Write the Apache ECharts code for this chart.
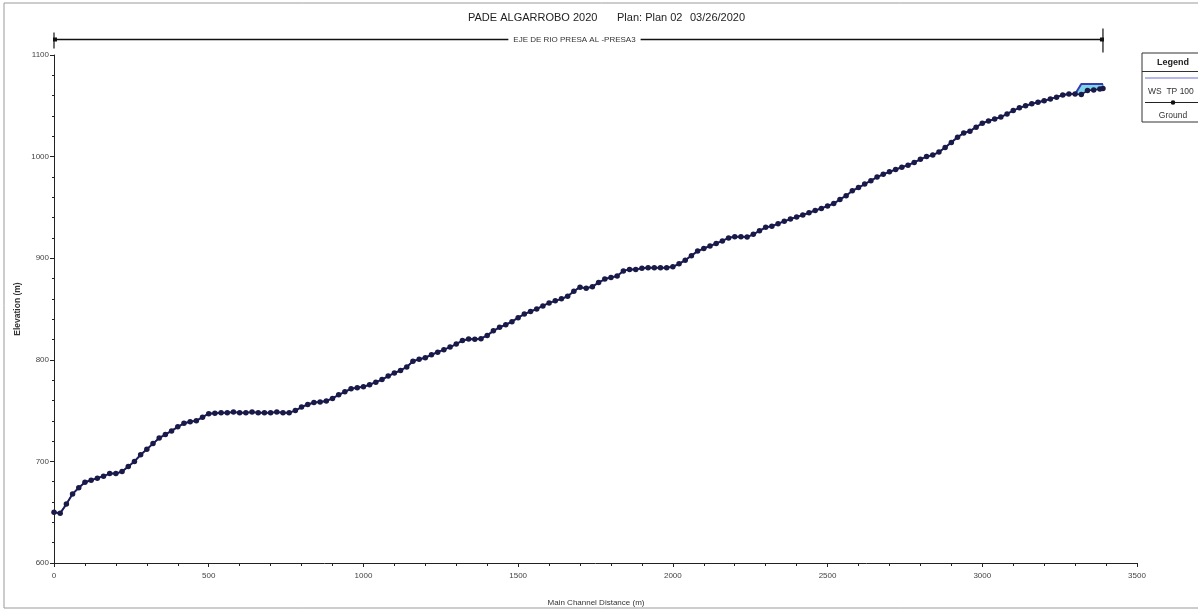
<!DOCTYPE html>
<html>
<head>
<meta charset="utf-8">
<script src="https://cdn.jsdelivr.net/npm/echarts@6/dist/echarts.min.js"></script>
<style>
html,body{margin:0;padding:0;background:#fff;}
#chart{width:1198px;height:611px;}
</style>
</head>
<body>
<div id="chart"></div>
<script>
// ---- Data ----
const titleParts = ['PADE ALGARROBO 2020', 'Plan: Plan 02', '03/26/2020'];
const reachName = 'EJE DE RIO PRESA AL -PRESA3';
const reachStart = 0;
const reachEnd = 3390;
const xTicks = [0, 500, 1000, 1500, 2000, 2500, 3000, 3500];
const yTicks = [600, 700, 800, 900, 1000, 1100];

// Main channel distance (m) of each cross section
const distances = [
  0, 20, 40, 60, 80, 100, 120, 140, 160, 180,
  200, 220, 240, 260, 280, 300, 320, 340, 360, 380,
  400, 420, 440, 460, 480, 500, 520, 540, 560, 580,
  600, 620, 640, 660, 680, 700, 720, 740, 760, 780,
  800, 820, 840, 860, 880, 900, 920, 940, 960, 980,
  1000, 1020, 1040, 1060, 1080, 1100, 1120, 1140, 1160, 1180,
  1200, 1220, 1240, 1260, 1280, 1300, 1320, 1340, 1360, 1380,
  1400, 1420, 1440, 1460, 1480, 1500, 1520, 1540, 1560, 1580,
  1600, 1620, 1640, 1660, 1680, 1700, 1720, 1740, 1760, 1780,
  1800, 1820, 1840, 1860, 1880, 1900, 1920, 1940, 1960, 1980,
  2000, 2020, 2040, 2060, 2080, 2100, 2120, 2140, 2160, 2180,
  2200, 2220, 2240, 2260, 2280, 2300, 2320, 2340, 2360, 2380,
  2400, 2420, 2440, 2460, 2480, 2500, 2520, 2540, 2560, 2580,
  2600, 2620, 2640, 2660, 2680, 2700, 2720, 2740, 2760, 2780,
  2800, 2820, 2840, 2860, 2880, 2900, 2920, 2940, 2960, 2980,
  3000, 3020, 3040, 3060, 3080, 3100, 3120, 3140, 3160, 3180,
  3200, 3220, 3240, 3260, 3280, 3300, 3320, 3340, 3360, 3380,
  3390
];

// Ground (channel invert) elevation (m)
const groundElev = [
  650, 649, 658, 668, 674, 679.5, 681.5, 683.5, 685.5, 688,
  688, 690, 695, 700, 706.5, 712, 717.5, 723, 726.5, 730,
  734, 737.5, 739, 740, 743.5, 747, 747.5, 748, 748, 748.5,
  748, 748, 748.5, 748, 748, 748, 748.5, 748, 748, 750,
  753.5, 756, 758, 758.5, 759.5, 762, 765.5, 768.5, 771.5, 772.5,
  773.5, 775.5, 778, 780.5, 784, 787, 789.5, 793, 798.5, 800.5,
  802, 805, 807.5, 810, 812.5, 815.5, 819, 820.5, 820.2, 820.8,
  824, 828.5, 832, 834.5, 837.5, 841.5, 845, 847.5, 850, 853,
  856, 858, 860, 862.5, 867.5, 871.5, 870.5, 872, 876, 879.5,
  881, 882.5, 887.5, 889, 889, 890, 890.5, 890.5, 890.5, 890.5,
  891.5, 894.5, 898, 902.5, 907, 909.5, 912, 914.5, 917, 920,
  921.2, 921, 920.8, 923.5, 927, 930.4, 931.5, 934, 936.3, 938.5,
  940.5, 942.5, 944.7, 947, 949, 951.4, 953.8, 957.8, 961.5, 966.4,
  969.5, 973, 976.3, 979.8, 982.6, 985, 987.3, 989.5, 991.6, 994.3,
  997.3, 1000, 1001.5, 1004.5, 1009, 1014, 1019, 1023.3, 1025, 1029,
  1032.8, 1035, 1037, 1038.9, 1042, 1045.3, 1048, 1050, 1052, 1053.5,
  1055, 1056.8, 1058.5, 1060.6, 1061.6, 1061.6, 1061, 1065, 1065.5, 1066.5,
  1067
];

// Water surface elevation, profile TP 100 (m)
const wsElev = [
  650, 649, 658, 668, 674, 679.5, 681.5, 683.5, 685.5, 688,
  688, 690, 695, 700, 706.5, 712, 717.5, 723, 726.5, 730,
  734, 737.5, 739, 740, 743.5, 747, 747.5, 748, 748, 748.5,
  748, 748, 748.5, 748, 748, 748, 748.5, 748, 748, 750,
  753.5, 756, 758, 758.5, 759.5, 762, 765.5, 768.5, 771.5, 772.5,
  773.5, 775.5, 778, 780.5, 784, 787, 789.5, 793, 798.5, 800.5,
  802, 805, 807.5, 810, 812.5, 815.5, 819, 820.5, 820.2, 820.8,
  824, 828.5, 832, 834.5, 837.5, 841.5, 845, 847.5, 850, 853,
  856, 858, 860, 862.5, 867.5, 871.5, 870.5, 872, 876, 879.5,
  881, 882.5, 887.5, 889, 889, 890, 890.5, 890.5, 890.5, 890.5,
  891.5, 894.5, 898, 902.5, 907, 909.5, 912, 914.5, 917, 920,
  921.2, 921, 920.8, 923.5, 927, 930.4, 931.5, 934, 936.3, 938.5,
  940.5, 942.5, 944.7, 947, 949, 951.4, 953.8, 957.8, 961.5, 966.4,
  969.5, 973, 976.3, 979.8, 982.6, 985, 987.3, 989.5, 991.6, 994.3,
  997.3, 1000, 1001.5, 1004.5, 1009, 1014, 1019, 1023.3, 1025, 1029,
  1032.8, 1035, 1037, 1038.9, 1042, 1045.3, 1048, 1050, 1052, 1053.5,
  1055, 1056.8, 1058.5, 1060.6, 1061.6, 1061.6, 1071.5, 1071.5, 1071.5, 1071.5,
  1071.5
];

const legendLabels = ['Legend', 'WS  TP 100', 'Ground'];

// ---- Build chart ----
const FONT = "'Liberation Sans', Arial, sans-serif";
const groundData = distances.map((d, i) => [d, groundElev[i]]);
const wsData = distances.map((d, i) => [d, wsElev[i]]);

const chart = echarts.init(document.getElementById('chart'), null, {renderer: 'canvas'});

const option = {
  backgroundColor: '#ffffff',
  animation: false,
  grid: {left: 54, right: 61, top: 55, bottom: 48, containLabel: false},
  xAxis: {
    type: 'value', min: xTicks[0], max: xTicks[xTicks.length - 1], interval: 500,
    axisLine: {show: true, onZero: false, lineStyle: {color: '#222', width: 1}},
    axisTick: {show: true, length: 4, lineStyle: {color: '#222'}},
    minorTick: {show: true, splitNumber: 5, length: 3, lineStyle: {color: '#222'}},
    splitLine: {show: false},
    axisLabel: {color: '#444', fontSize: 8, fontFamily: FONT, margin: 9, formatter: v => String(v)}
  },
  yAxis: {
    type: 'value', min: yTicks[0], max: yTicks[yTicks.length - 1], interval: 100,
    axisLine: {show: true, onZero: false, lineStyle: {color: '#222', width: 1}},
    axisTick: {show: true, length: 4, lineStyle: {color: '#222'}},
    minorTick: {show: true, splitNumber: 5, length: 2, lineStyle: {color: '#222'}},
    splitLine: {show: false},
    axisLabel: {color: '#444', fontSize: 8, fontFamily: FONT, margin: 5, formatter: v => String(v)}
  },
  series: [
    {
      name: 'water',
      type: 'custom',
      z: 1,
      silent: true,
      data: [[0]],
      renderItem: function (params, api) {
        const pts = [];
        for (let i = 0; i < wsData.length; i++) pts.push(api.coord(wsData[i]));
        for (let i = groundData.length - 1; i >= 0; i--) pts.push(api.coord(groundData[i]));
        return {
          type: 'polygon',
          shape: {points: pts},
          style: {fill: '#7fd4ea', stroke: '#2a6f9a', lineWidth: 0.8}
        };
      }
    },
    {
      name: 'WS  TP 100',
      type: 'line',
      z: 2,
      data: wsData,
      showSymbol: false,
      symbol: 'none',
      lineStyle: {color: '#3b3bb0', width: 2},
      silent: true
    },
    {
      name: 'Ground',
      type: 'line',
      z: 3,
      data: groundData,
      symbol: 'circle',
      symbolSize: 5.5,
      showAllSymbol: true,
      itemStyle: {color: '#1a1a48'},
      lineStyle: {color: '#1c1c4c', width: 1.5},
      silent: true
    }
  ]
};

chart.setOption(option);

// Reach bracket positions derived from the x axis scale
const xs = chart.convertToPixel({xAxisIndex: 0}, reachStart);
const xe = chart.convertToPixel({xAxisIndex: 0}, reachEnd);
const by = 39.5;
const bmid = (xs + xe) / 2;

const lx = 1142, ly = 53;
chart.setOption({
  graphic: [
    // outer frame
    {type: 'rect', shape: {x: 4, y: 3, width: 1210, height: 605}, style: {fill: 'none', stroke: '#9a9a9a', lineWidth: 1}, silent: true},
    // title
    {type: 'text', x: 468, y: 18, style: {text: titleParts[0], font: "11px " + FONT, fill: '#222', verticalAlign: 'middle'}},
    {type: 'text', x: 617, y: 18, style: {text: titleParts[1], font: "11px " + FONT, fill: '#222', verticalAlign: 'middle'}},
    {type: 'text', x: 690, y: 18, style: {text: titleParts[2], font: "11px " + FONT, fill: '#222', verticalAlign: 'middle'}},
    // reach bracket
    {type: 'line', shape: {x1: xs, y1: by, x2: xe, y2: by}, style: {stroke: '#111', lineWidth: 1.5}},
    {type: 'line', shape: {x1: xs, y1: by - 7, x2: xs, y2: by + 9}, style: {stroke: '#111', lineWidth: 1.2}},
    {type: 'line', shape: {x1: xe, y1: by - 11, x2: xe, y2: by + 13}, style: {stroke: '#111', lineWidth: 1.2}},
    {type: 'rect', shape: {x: xs - 1, y: by - 2, width: 4, height: 4}, style: {fill: '#111'}},
    {type: 'rect', shape: {x: xe - 3, y: by - 2, width: 4, height: 4}, style: {fill: '#111'}},
    {type: 'text', x: bmid - 4, y: by, z: 10, style: {text: reachName, font: "8px " + FONT, fill: '#333', align: 'center', verticalAlign: 'middle', backgroundColor: '#fff', padding: [1, 5]}},
    // axis names
    {type: 'text', x: 596, y: 603, style: {text: 'Main Channel Distance (m)', font: "8px " + FONT, fill: '#333', align: 'center', verticalAlign: 'middle'}},
    {type: 'text', x: 18, y: 309, rotation: Math.PI / 2, style: {text: 'Elevation (m)', font: "bold 8.5px " + FONT, fill: '#333', align: 'center', verticalAlign: 'middle'}},
    // legend box
    {type: 'rect', shape: {x: lx, y: ly, width: 80, height: 69}, style: {fill: '#fff', stroke: '#333', lineWidth: 1}},
    {type: 'line', shape: {x1: lx, y1: ly + 18.5, x2: lx + 80, y2: ly + 18.5}, style: {stroke: '#333', lineWidth: 1}},
    {type: 'text', x: 1173, y: ly + 9.5, style: {text: legendLabels[0], font: "bold 9px " + FONT, fill: '#222', align: 'center', verticalAlign: 'middle'}},
    {type: 'line', shape: {x1: lx + 3, y1: ly + 25, x2: lx + 80, y2: ly + 25}, style: {stroke: '#6f6fd6', lineWidth: 1}},
    {type: 'text', x: 1148, y: ly + 38.5, style: {text: legendLabels[1], font: "8.5px " + FONT, fill: '#333', verticalAlign: 'middle'}},
    {type: 'line', shape: {x1: lx + 3, y1: ly + 49.5, x2: lx + 80, y2: ly + 49.5}, style: {stroke: '#222', lineWidth: 1}},
    {type: 'circle', shape: {cx: 1173, cy: ly + 49.5, r: 2.3}, style: {fill: '#111'}},
    {type: 'text', x: 1173, y: ly + 63, style: {text: legendLabels[2], font: "8.5px " + FONT, fill: '#333', align: 'center', verticalAlign: 'middle'}}
  ]
});
</script>
</body>
</html>
